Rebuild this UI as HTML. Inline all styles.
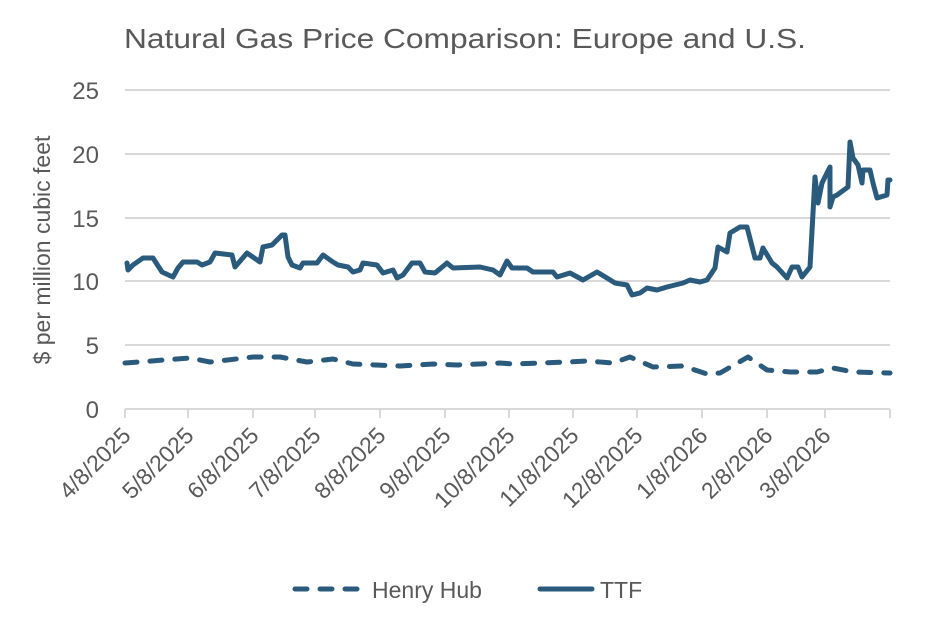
<!DOCTYPE html>
<html><head><meta charset="utf-8"><style>body{margin:0;background:#fff}svg{display:block}</style></head><body>
<svg width="932" height="627" viewBox="0 0 932 627" xmlns="http://www.w3.org/2000/svg" font-family="'Liberation Sans', sans-serif">
<rect width="932" height="627" fill="#fff"/>
<text x="124" y="48" font-size="28" fill="#595959" textLength="682" lengthAdjust="spacingAndGlyphs">Natural Gas Price Comparison: Europe and U.S.</text>
<g stroke="#d9d9d9" stroke-width="2">
<line x1="125" y1="90" x2="890" y2="90"/><line x1="125" y1="154" x2="890" y2="154"/><line x1="125" y1="218" x2="890" y2="218"/><line x1="125" y1="281" x2="890" y2="281"/><line x1="125" y1="345" x2="890" y2="345"/><line x1="125" y1="409" x2="890" y2="409"/>
<g><line x1="125" y1="409" x2="125" y2="418"/><line x1="188" y1="409" x2="188" y2="418"/><line x1="253" y1="409" x2="253" y2="418"/><line x1="315" y1="409" x2="315" y2="418"/><line x1="380" y1="409" x2="380" y2="418"/><line x1="445" y1="409" x2="445" y2="418"/><line x1="509" y1="409" x2="509" y2="418"/><line x1="573" y1="409" x2="573" y2="418"/><line x1="637" y1="409" x2="637" y2="418"/><line x1="702" y1="409" x2="702" y2="418"/><line x1="767" y1="409" x2="767" y2="418"/><line x1="825" y1="409" x2="825" y2="418"/><line x1="890" y1="409" x2="890" y2="418"/></g>
</g>
<g font-size="24" fill="#595959" text-anchor="end">
<text x="99" y="99">25</text><text x="99" y="163">20</text><text x="99" y="227">15</text><text x="99" y="290">10</text><text x="99" y="354">5</text><text x="99" y="418">0</text>
</g>
<text transform="translate(50,250) rotate(-90)" font-size="23" fill="#595959" text-anchor="middle">$ per million cubic feet</text>
<g font-size="23" fill="#595959" text-anchor="end">
<text transform="translate(132,437) rotate(-45)">4/8/2025</text>
<text transform="translate(195,437) rotate(-45)">5/8/2025</text>
<text transform="translate(260,437) rotate(-45)">6/8/2025</text>
<text transform="translate(322,437) rotate(-45)">7/8/2025</text>
<text transform="translate(387,437) rotate(-45)">8/8/2025</text>
<text transform="translate(452,437) rotate(-45)">9/8/2025</text>
<text transform="translate(516,437) rotate(-45)">10/8/2025</text>
<text transform="translate(580,437) rotate(-45)">11/8/2025</text>
<text transform="translate(644,437) rotate(-45)">12/8/2025</text>
<text transform="translate(709,437) rotate(-45)">1/8/2026</text>
<text transform="translate(774,437) rotate(-45)">2/8/2026</text>
<text transform="translate(832,437) rotate(-45)">3/8/2026</text>
</g>
<g fill="none" stroke="#2a5b7d" stroke-width="5" stroke-linejoin="round" stroke-linecap="round">
<polyline points="127,263 128,270 133,265 143,258 153,258 162,272 173,277 178,268 183,262 197,262 202,265 210,262 215,253 232,255 235,267 247,253 260,262 263,247 272,245 282,235 285,235 288,257 292,265 300,268 303,263 317,263 323,255 333,262 338,265 348,267 353,272 360,270 363,263 377,265 383,273 393,270 397,278 403,275 412,263 420,263 425,272 435,273 447,263 453,268 480,267 493,270 500,275 507,261 512,268 527,268 533,272 553,272 557,277 570,273 583,280 597,272 607,278 615,283 627,285 632,295 640,293 647,288 657,290 667,287 683,283 690,280 700,282 707,280 715,268 718,247 727,252 730,233 740,227 747,227 755,258 760,258 763,248 772,263 777,267 787,278 792,267 798,267 802,277 810,267 815,177 818,203 822,183 830,167 830,207 833,197 837,195 848,187 850,142 853,158 858,165 862,183 863,170 870,170 873,183 877,198 887,195 888,180 890,180"/>
<polyline stroke-dasharray="12 13" points="125,363 190,358 210,362 253,357 280,357 307,362 333,359 353,364 400,366 433,364 457,365 500,363 513,364 540,363 567,362 587,361 613,363 630,357 653,367 683,366 707,374 720,373 748,357 767,370 790,372 817,372 833,368 853,372 890,373"/>
<line x1="295" y1="589" x2="360" y2="589" stroke-dasharray="12 13"/>
<line x1="540" y1="589" x2="592" y2="589"/>
</g>
<g font-size="23" fill="#595959">
<text x="372" y="598">Henry Hub</text><text x="600" y="598">TTF</text>
</g>
</svg>
</body></html>
